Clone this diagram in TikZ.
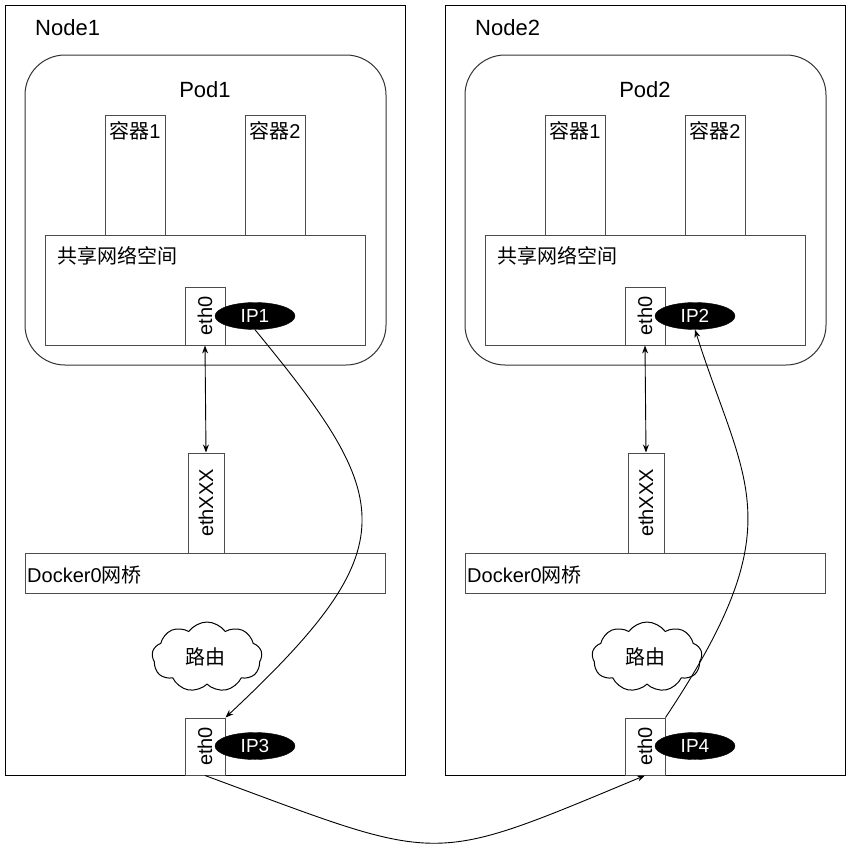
\documentclass[tikz,border=0pt]{standalone}
\usepackage{fontspec}
\setmainfont{Liberation Sans}
\newfontfamily\cjk{Noto Sans CJK SC}
\usetikzlibrary{arrows.meta,shapes.symbols,shapes.geometric}
\begin{document}
\begin{tikzpicture}[x=1pt,y=-1pt,
  outerbox/.style={draw=black, line width=1pt, rectangle, inner sep=0pt},
  podbox/.style={draw=black!80, line width=1pt, rectangle, rounded corners=40pt, inner sep=0pt},
  box/.style={draw=black!70, line width=1pt, fill=white, rectangle, inner sep=0pt},
  ipell/.style={ellipse, fill=black, draw=black, minimum width=80pt, minimum height=27pt, inner sep=0pt, text=white, font=\fontsize{19}{22}\selectfont},
  lbl/.style={inner sep=0pt, font=\fontsize{20}{24}\selectfont},
  big/.style={inner sep=0pt, font=\fontsize{22}{26}\selectfont},
  conn/.style={line width=0.9pt, draw=black},
  tip/.style={-{Stealth[length=8pt,width=6pt]}},
  cloudnode/.style={cloud, cloud puffs=9, cloud puff arc=110, aspect=1.6, draw=black, line width=1pt, minimum width=110pt, minimum height=70pt, inner sep=0pt}
]
\useasboundingbox (0,0) rectangle (852,852);
\fill[white] (0,0) rectangle (852,852);
\foreach \dx/\n in {0/1,440/2}{
  \node[outerbox, minimum width=400pt, minimum height=770pt] (nodebox\n) at (205+\dx,390) {};
  \node[big, anchor=west] (nodelbl\n) at (35+\dx,28) {Node\n};
  \node[podbox, minimum width=361pt, minimum height=310pt] (pod\n) at (205.5+\dx,210) {};
  \node[big] (podlbl\n) at (205+\dx,90) {Pod\n};
  \node[box, minimum width=60pt, minimum height=120pt] (ca\n) at (135+\dx,175) {};
  \node[lbl] (calbl\n) at (135+\dx,131) {{\cjk 容器}1};
  \node[box, minimum width=60pt, minimum height=120pt] (cb\n) at (275+\dx,175) {};
  \node[lbl] (cblbl\n) at (275+\dx,131) {{\cjk 容器}2};
  \node[box, minimum width=320pt, minimum height=110pt] (ns\n) at (205+\dx,290) {};
  \node[lbl, anchor=west] (nslbl\n) at (57+\dx,256) {\cjk 共享网络空间};
  \node[box, minimum width=40pt, minimum height=58pt] (etha\n) at (205+\dx,316) {};
  \node[lbl, rotate=90] (ethalbl\n) at (205+\dx,316) {eth0};
  \node[ipell] (ipa\n) at (255+\dx,316) {IP\n};
  \node[box, minimum width=36pt, minimum height=100pt] (ethx\n) at (206+\dx,503) {};
  \node[lbl, rotate=90] (ethxlbl\n) at (206+\dx,503) {ethXXX};
  \node[box, minimum width=360pt, minimum height=40pt] (dk\n) at (205+\dx,573) {};
  \node[lbl, anchor=west] (dklbl\n) at (27+\dx,575) {Docker0{\cjk 网桥}};
  \node[cloudnode] (cl\n) at (207+\dx,657) {};
  \node[lbl] (cllbl\n) at (205+\dx,657) {\cjk 路由};
  \node[box, minimum width=40pt, minimum height=57pt] (ethb\n) at (205+\dx,746.5) {};
  \node[lbl, rotate=90] (ethblbl\n) at (205+\dx,746.5) {eth0};
  \draw[conn, {Stealth[length=8pt,width=6pt]}-{Stealth[length=8pt,width=6pt]}] (etha\n.south) -- (ethx\n.north);
}
\node[ipell] (ipb1) at (255,746) {IP3};
\node[ipell] (ipb2) at (695,746) {IP4};
\draw[conn, tip] (ipa1.south) .. controls (395,500) and (409,546) .. (ethb1.north east);
\draw[conn, tip] (ethb2.north east) .. controls (795,523) and (745,487) .. (ipa2.south);
\draw[conn, tip] (ethb1.south) .. controls (445,864) and (425,867) .. (ethb2.south);
\end{tikzpicture}
\end{document}
